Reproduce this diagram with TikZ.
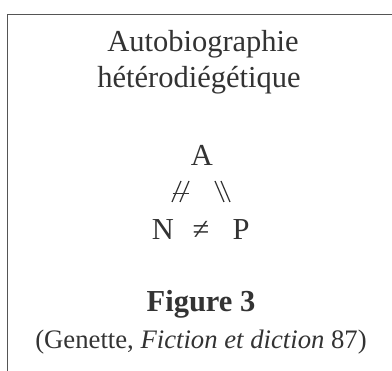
\documentclass[tikz,border=0pt]{standalone}
\usepackage{fontspec}
\setmainfont{Liberation Serif}
\usetikzlibrary{positioning}
\definecolor{ink}{HTML}{333333}
\definecolor{rule}{HTML}{555555}

\begin{document}
\begin{tikzpicture}[x=1pt, y=-1pt,
  every node/.style={inner sep=0pt, text=ink},
  big/.style={font=\fontsize{30.5}{34}\selectfont, anchor=base},
  figlabel/.style={font=\fontsize{30.5}{34}\selectfont\bfseries, anchor=base},
  cite/.style={font=\fontsize{26.7}{30}\selectfont, anchor=base},
  relbar/.style={draw=ink, line width=1.2pt}]
  \useasboundingbox (0,0) rectangle (392,371);
  %% Frame (cut at right and bottom)
  \draw[rule, line width=1.5pt] (7.5,371) -- (7.5,14.5) -- (392,14.5);

  %% Title
  \node[big] (title1) at (203,52) {Autobiographie};
  \node[big] (title2) at (199,88) {hétérodiégétique};

  %% Triangle A / N / P
  \node[big] (A) at (202,166) {A};
  \node[big] (N) at (163,240) {N};
  \node[big] (neq) at (201,240) {≠};
  \node[big] (P) at (241,240) {P};
  %% A-N : crossed double slash
  \draw[relbar] (172,202) -- (181,181);
  \draw[relbar] (180,202) -- (189,181);
  \draw[relbar] (172.5,193.5) -- (188.5,193.5);
  %% A-P : double backslash
  \draw[relbar] (215,181) -- (224,202);
  \draw[relbar] (221,181) -- (230,202);

  %% Caption
  \node[figlabel] (fig) at (201,312) {Figure 3};
  \node[cite] (source) at (201,349) {(Genette, \textit{Fiction et diction} 87)};
\end{tikzpicture}
\end{document}
